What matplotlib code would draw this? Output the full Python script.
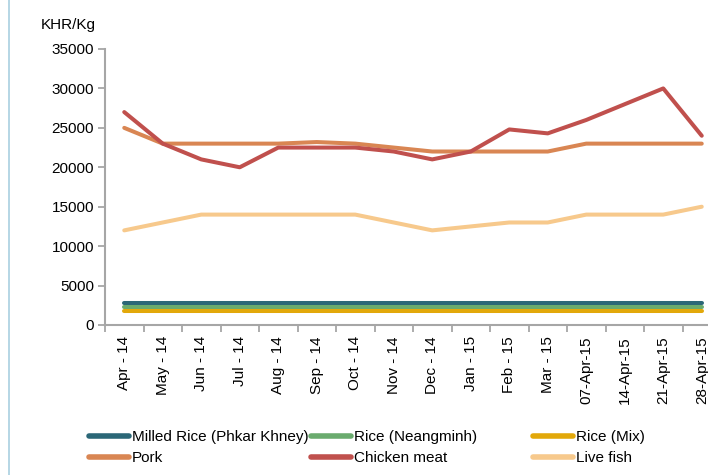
import matplotlib
matplotlib.use("Agg")
import matplotlib.pyplot as plt
from matplotlib.lines import Line2D
from matplotlib.patches import FancyBboxPatch

plt.rcParams['font.family'] = ['Liberation Sans', 'DejaVu Sans']
FS = 11

categories = ["Apr - 14", "May - 14", "Jun - 14", "Jul - 14", "Aug - 14", "Sep - 14",
              "Oct - 14", "Nov - 14", "Dec - 14", "Jan - 15", "Feb - 15", "Mar - 15",
              "07-Apr-15", "14-Apr-15", "21-Apr-15", "28-Apr-15"]

milled_rice = [2800] * 16
rice_neangminh = [2300] * 16
rice_mix = [1800] * 16
pork = [25000, 23000, 23000, 23000, 23000, 23200, 23000, 22500, 22000, 22000, 22000, 22000,
        23000, 23000, 23000, 23000]
chicken = [27000, 23000, 21000, 20000, 22500, 22500, 22500, 22000, 21000, 22000, 24800, 24300,
           26000, 28000, 30000, 24000]
live_fish = [12000, 13000, 14000, 14000, 14000, 14000, 14000, 13000, 12000, 12500, 13000, 13000,
             14000, 14000, 14000, 15000]

series = [
    ("Milled Rice (Phkar Khney)", milled_rice, "#2b6777"),
    ("Rice (Neangminh)", rice_neangminh, "#6aab6e"),
    ("Rice (Mix)", rice_mix, "#e2a80a"),
    ("Pork", pork, "#d98653"),
    ("Chicken meat", chicken, "#c0504d"),
    ("Live fish", live_fish, "#f7c98c"),
]

W, H = 708, 475
fig = plt.figure(figsize=(W / 100, H / 100), dpi=100)

border = FancyBboxPatch((9 / W, -20 / H), 720 / W, 520 / H,
                        boxstyle="round,pad=0,rounding_size=0.025",
                        transform=fig.transFigure, facecolor="none",
                        edgecolor="#a9cfe0", linewidth=1.2)
fig.patches.append(border)

ax = fig.add_axes([105 / W, 1 - 325 / H, 616 / W, 276 / H])
x = list(range(len(categories)))
order = [3, 4, 5, 0, 1, 2]
for i in order:
    name, vals, col = series[i]
    ax.plot(x, vals, color=col, lw=2.9, solid_capstyle="round", solid_joinstyle="round",
            zorder=3 + i)
ax.set_xlim(-0.5, len(categories) - 0.5)
ax.set_ylim(0, 35000)
ax.set_yticks(range(0, 35001, 5000))
ax.set_yticklabels([str(v) for v in range(0, 35001, 5000)], fontsize=FS)
ax.set_xticks(x)
ax.set_xticklabels(categories, rotation=90, fontsize=FS)
ax.set_xticks([i - 0.5 for i in range(len(categories) + 1)], minor=True)
ax.tick_params(axis="x", which="major", length=0, pad=8)
ax.tick_params(axis="x", which="minor", length=5, width=1.3, color="#a6a6a6", direction="out")
ax.tick_params(axis="y", length=5, width=1.3, color="#a6a6a6", pad=3)
for s in ["top", "right"]:
    ax.spines[s].set_visible(False)
for s in ["left", "bottom"]:
    ax.spines[s].set_color("#a6a6a6")
    ax.spines[s].set_linewidth(1.5)
ax.set_facecolor("none")

fig.text(41 / W, 1 - 25 / H, "KHR/Kg", fontsize=FS, va="center", ha="left")

col_x = [89, 311, 533]
pairs = [(0, 3), (1, 4), (2, 5)]
for cx, (a, b) in zip(col_x, pairs):
    hs = [Line2D([], [], color=series[k][2], lw=4, solid_capstyle="round") for k in (a, b)]
    fig.legend(hs, [series[a][0], series[b][0]], loc="upper left",
               bbox_to_anchor=(cx / W, 1 - 430 / H), frameon=False, fontsize=FS,
               handlelength=2.6, handletextpad=0.2, labelspacing=0.45, borderpad=0,
               borderaxespad=0)

fig.savefig("out.png", dpi=100)
